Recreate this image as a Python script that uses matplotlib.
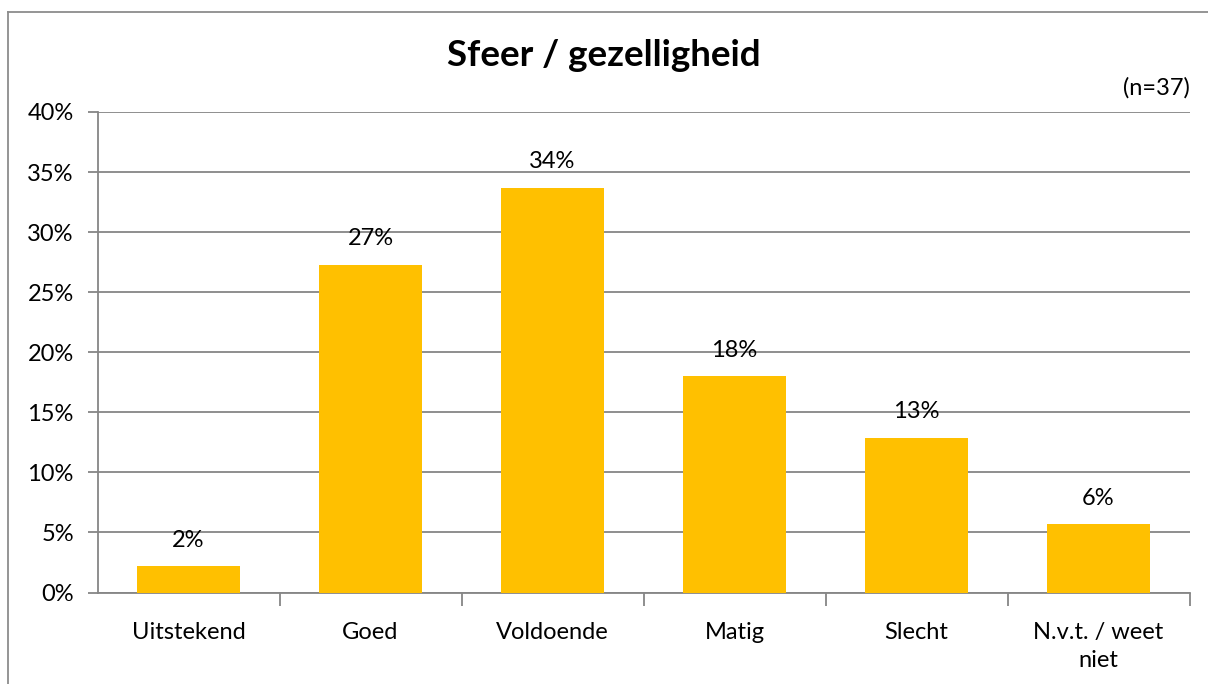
import matplotlib
matplotlib.use("Agg")
import matplotlib.pyplot as plt
from matplotlib.ticker import FuncFormatter, MultipleLocator

categories = ["Uitstekend", "Goed", "Voldoende", "Matig", "Slecht", "N.v.t. / weet\nniet"]
values = [2.2, 27.3, 33.7, 18.0, 12.9, 5.7]
labels = ["2%", "27%", "34%", "18%", "13%", "6%"]
title = "Sfeer / gezelligheid"
note = "(n=37)"

plt.rcParams['font.family'] = ['Lato', 'DejaVu Sans']
FS = 17

W, H = 1208, 684
fig = plt.figure(figsize=(W / 100, H / 100), dpi=100)
fig.patch.set_facecolor("white")

# outer chart border (top & left visible)
fig.add_artist(plt.Line2D([8 / W, 8 / W], [0, 1 - 12 / H], transform=fig.transFigure,
                          color="#8c8c8c", lw=1.3))
fig.add_artist(plt.Line2D([8 / W, 1], [1 - 12 / H, 1 - 12 / H], transform=fig.transFigure,
                          color="#8c8c8c", lw=1.3))

x0, x1 = 97.5, 1189.5
y0, y1 = 592.5, 112
ax = fig.add_axes([x0 / W, 1 - y0 / H, (x1 - x0) / W, (y0 - y1) / H])

xs = list(range(len(categories)))
ax.bar(xs, values, width=0.57, color="#FFC000", zorder=3)
for x, v, l in zip(xs, values, labels):
    ax.text(x, v + 2.15, l, ha="center", va="center", fontsize=FS, color="black", zorder=4)

ax.set_xlim(-0.5, len(categories) - 0.5)
ax.set_ylim(0, 40)
ax.yaxis.set_major_locator(MultipleLocator(5))
ax.yaxis.set_major_formatter(FuncFormatter(lambda v, p: f"{v:.0f}%"))
ax.grid(axis="y", color="#868686", lw=1.3, zorder=0)
ax.set_axisbelow(True)

for s in ["top", "right"]:
    ax.spines[s].set_visible(False)
ax.spines["left"].set_color("#868686")
ax.spines["bottom"].set_color("#868686")
ax.spines["left"].set_linewidth(1.3)
ax.spines["bottom"].set_linewidth(1.3)

ax.set_xticks([x + 0.5 for x in xs], minor=False)
ax.set_xticklabels([])
ax.tick_params(axis="x", which="major", length=9, color="#868686", width=1.3)
ax.set_xticks(xs, minor=True)
ax.set_xticklabels(categories, minor=True, fontsize=FS, linespacing=1.45)
ax.tick_params(axis="x", which="minor", length=0, pad=21)
ax.tick_params(axis="y", length=7, color="#868686", width=1.3, labelsize=FS, pad=10)
for lab in ax.get_xticklabels(minor=True):
    lab.set_verticalalignment("top")

fig.text(0.5, 1 - 56 / H, title, ha="center", va="center", fontsize=26.5, fontweight="bold")
fig.text(1190 / W, 1 - 88 / H, note, ha="right", va="center", fontsize=FS)

fig.savefig("out.png", dpi=100, facecolor="white")
